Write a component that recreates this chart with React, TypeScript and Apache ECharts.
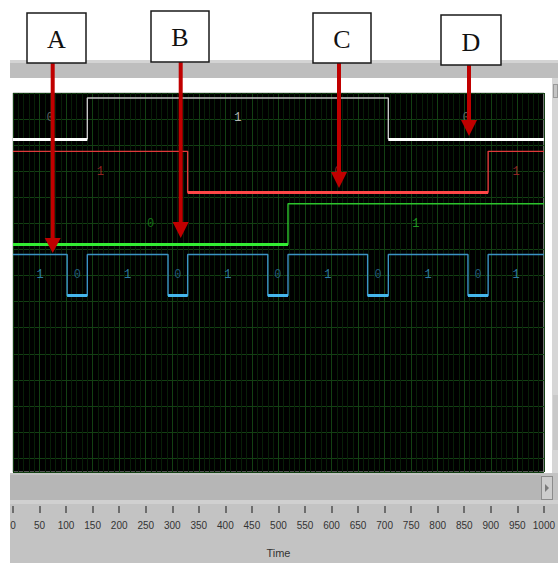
import React, { useEffect, useRef } from "react";
import * as echarts from "echarts";

// ---- data ----
const X_MIN = 0;
const X_MAX = 1000;
const X_INTERVAL = 50;

const signalNames = ["white", "red", "green", "blue"];
// transition times and logic levels (level holds until next time)
const whiteTimes = [0, 140, 707];
const whiteLevels = [0, 1, 0];
const redTimes = [0, 329, 895];
const redLevels = [1, 0, 1];
const greenTimes = [0, 518];
const greenLevels = [0, 1];
const blueTimes = [0, 102, 140, 292, 329, 480, 518, 668, 707, 857, 895];
const blueLevels = [1, 0, 1, 0, 1, 0, 1, 0, 1, 0, 1];

const annotationLetters = ["A", "B", "C", "D"];

// ---- layout / style ----
const GRID_TOP = 93;
const GRID_H = 380;
const Y_DIV = 26.15;
const ROW_HIGH = [5, 58.5, 111, 162];
const LEVEL_GAP = 41;

const styles = [
  { thin: "#c8c8c8", thick: "#ffffff", l1: "#e6e6e6", l0: "#7a7a7a" },
  { thin: "#e03a3a", thick: "#ff4646", l1: "#b82c2c", l0: "#b82c2c" },
  { thin: "#2cc42c", thick: "#33ee33", l1: "#28c028", l0: "#1a8a1a" },
  { thin: "#3b92c4", thick: "#45b6ec", l1: "#3a9bd0", l0: "#2a6f9a" },
];

const signals = [
  [whiteTimes, whiteLevels],
  [redTimes, redLevels],
  [greenTimes, greenLevels],
  [blueTimes, blueLevels],
];

const boxes = [
  { x: 27, y: 13, w: 59, h: 50, ty: 39, ax: 52.7, headTop: 238, tip: 253 },
  { x: 151, y: 11, w: 58, h: 51, ty: 37, ax: 180.7, headTop: 222, tip: 238 },
  { x: 313, y: 13, w: 58, h: 50, ty: 39.5, ax: 339, headTop: 172, tip: 188 },
  { x: 441, y: 15, w: 60, h: 50, ty: 42, ax: 469, headTop: 120, tip: 136 },
];

const panels = [
  { left: 10, top: 60, width: 548, height: 18, background: "#bebebe" },
  { left: 10, top: 60, width: 548, height: 3, background: "#d4d4d4" },
  { left: 552, top: 78, width: 6, height: 397, background: "#d6d6d6" },
  { left: 553, top: 84, width: 5, height: 14, background: "#c4c4c4", border: "1px solid #9a9a9a" },
  { left: 553, top: 395, width: 5, height: 55, background: "#c9c9c9" },
  { left: 10, top: 473, width: 548, height: 90, background: "#c3c3c3" },
  { left: 10, top: 475, width: 531, height: 25, background: "#b6b6b6" },
  { left: 10, top: 500, width: 548, height: 4, background: "#d0d0d0" },
  { left: 541, top: 476, width: 12, height: 24, background: "#cdcdcd", border: "1px solid #8c8c8c" },
];

const yOf = (row: number, level: number) => ROW_HIGH[row] + (1 - level) * LEVEL_GAP;

function buildSeries() {
  const series: any[] = [];
  signals.forEach(([times, levels], row) => {
    const st = styles[row];
    const pts: number[][] = times.map((t, i) => [t, yOf(row, levels[i])]);
    pts.push([X_MAX, yOf(row, levels[levels.length - 1])]);
    series.push({
      name: signalNames[row],
      type: "line",
      step: "end",
      data: pts,
      symbol: "none",
      lineStyle: { color: st.thin, width: 1.4 },
      z: 3,
    });
    const lows: any[] = [];
    const labels: any[] = [];
    times.forEach((t, i) => {
      const end = i + 1 < times.length ? times[i + 1] : X_MAX;
      if (levels[i] === 0) {
        lows.push({ coords: [[t, yOf(row, 0)], [end, yOf(row, 0)]] });
      }
      labels.push({
        value: [(t + end) / 2, ROW_HIGH[row] + LEVEL_GAP / 2, String(levels[i])],
        label: { color: levels[i] === 1 ? st.l1 : st.l0 },
      });
    });
    series.push({
      type: "lines",
      coordinateSystem: "cartesian2d",
      data: lows,
      lineStyle: { color: st.thick, width: 3, opacity: 1 },
      silent: true,
      z: 4,
    });
    series.push({
      type: "scatter",
      data: labels,
      symbolSize: 2,
      itemStyle: { color: "rgba(0,0,0,0)" },
      label: {
        show: true,
        position: "inside",
        formatter: (p: any) => p.value[2],
        fontSize: 12,
        fontFamily: "'Liberation Mono', 'DejaVu Sans Mono', monospace",
      },
      silent: true,
      z: 5,
    });
  });
  return series;
}

function buildGraphics() {
  const g: any[] = [
    { type: "polygon", z: 50, shape: { points: [[545, 484], [545, 492], [549, 488]] }, style: { fill: "#7a7a7a" } },
  ];
  boxes.forEach((b, i) => {
    g.push({
      type: "line",
      z: 100,
      shape: { x1: b.ax, y1: b.y + b.h, x2: b.ax, y2: b.headTop + 1 },
      style: { stroke: "#c00000", lineWidth: 4 },
    });
    g.push({
      type: "polygon",
      z: 100,
      shape: { points: [[b.ax - 8, b.headTop], [b.ax + 8, b.headTop], [b.ax, b.tip]] },
      style: { fill: "#c00000" },
    });
    g.push({
      type: "rect",
      z: 101,
      shape: { x: b.x, y: b.y, width: b.w, height: b.h },
      style: { fill: "#ffffff", stroke: "#1a1a1a", lineWidth: 1.5 },
    });
    g.push({
      type: "text",
      z: 102,
      x: b.x + b.w / 2,
      y: b.ty,
      style: {
        text: annotationLetters[i],
        fill: "#111111",
        font: "26px 'Liberation Serif', 'DejaVu Serif', serif",
        align: "center",
        verticalAlign: "middle",
      },
    });
  });
  return g;
}

export default function App() {
  const ref = useRef<HTMLDivElement>(null);
  useEffect(() => {
    if (!ref.current) return;
    const chart = echarts.init(ref.current, undefined, { renderer: "svg" });
    const axisFont = "'Liberation Sans', Arial, sans-serif";
    chart.setOption({
      animation: false,
      backgroundColor: "transparent",
      grid: {
        left: 13,
        top: GRID_TOP,
        width: 535,
        height: GRID_H,
        show: true,
        backgroundColor: "#000000",
        borderColor: "#a6a6a6",
        borderWidth: 1,
      },
      xAxis: {
        type: "value",
        min: X_MIN,
        max: X_MAX,
        interval: X_INTERVAL,
        position: "bottom",
        offset: 34,
        axisLine: { show: true, onZero: false, lineStyle: { color: "#c3c3c3", width: 1 } },
        axisTick: { show: true, inside: false, length: 7, lineStyle: { color: "#505050", width: 1.5 } },
        axisLabel: {
          margin: 14,
          fontSize: 10,
          color: "#333333",
          fontFamily: axisFont,
          formatter: (v: number) => String(v),
        },
        splitLine: { show: true, lineStyle: { color: "#134013", width: 1 } },
        minorTick: { show: false, splitNumber: 5 },
        minorSplitLine: { show: true, lineStyle: { color: "#081f08", width: 1 } },
        name: "Time",
        nameLocation: "middle",
        nameGap: 41,
        nameTextStyle: { fontSize: 11, color: "#333333", fontFamily: axisFont },
      },
      yAxis: {
        type: "value",
        inverse: true,
        min: 0,
        max: GRID_H,
        interval: Y_DIV,
        axisLine: { show: false },
        axisTick: { show: false },
        axisLabel: { show: false },
        splitLine: { show: true, lineStyle: { color: "#134013", width: 1 } },
      },
      series: buildSeries(),
      graphic: buildGraphics(),
    });
    return () => chart.dispose();
  }, []);
  return (
    <div style={{ position: "absolute", left: 0, top: 0, width: 558, height: 563, background: "#ffffff" }}>
      {panels.map((p, i) => (
        <div
          key={i}
          style={{
            position: "absolute",
            left: p.left,
            top: p.top,
            width: p.width,
            height: p.height,
            background: p.background,
            border: p.border,
            boxSizing: "border-box",
          }}
        />
      ))}
      <div ref={ref} style={{ position: "absolute", left: 0, top: 0, width: 558, height: 563 }} />
    </div>
  );
}
